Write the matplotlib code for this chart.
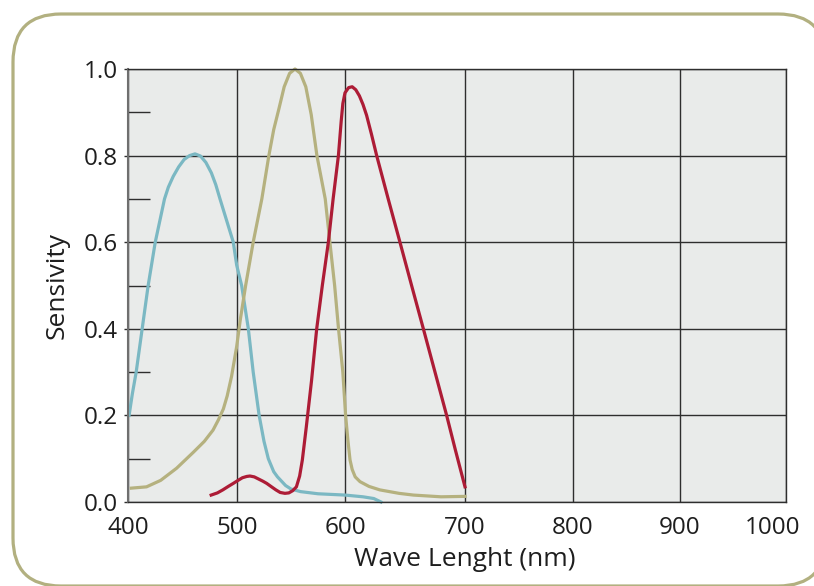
import numpy as np
import matplotlib.pyplot as plt
from matplotlib.patches import FancyBboxPatch
from matplotlib.transforms import ScaledTranslation

plt.rcParams['font.family'] = ['Open Sans', 'DejaVu Sans']

# cone sensitivity curves (wavelength nm, relative sensitivity)
blue_nm = [401, 404, 407.5, 413, 418.5, 425, 433.5, 437, 441.5, 446.5, 451.5, 456.5,
           461.5, 466.5, 471.5, 476.5, 480.5, 484.4, 490.5, 496.6, 499.7, 504.3, 510.5,
           515, 520.5, 525, 529, 534, 537.5, 540.5, 545, 550, 558.8, 575, 600, 615,
           624, 630]
blue_s = [0.2, 0.25, 0.3, 0.4, 0.5, 0.6, 0.7, 0.727, 0.752, 0.774, 0.791, 0.8,
          0.804, 0.799, 0.784, 0.76, 0.733, 0.7, 0.65, 0.6, 0.547, 0.5, 0.4,
          0.3, 0.2, 0.14, 0.1, 0.07, 0.058, 0.05, 0.038, 0.03, 0.024, 0.019, 0.016, 0.012,
          0.008, 0.0]

olive_nm = [403, 417, 430, 444.6, 460, 470, 478, 483, 487.5, 491, 495, 499.7, 503, 508,
            515, 523, 529.5, 534, 538.7, 543.7, 548.7, 553.7, 558.7, 563.7, 568.7,
            574, 581.7, 586, 590.4, 594, 598, 600.5, 602.5, 604.2, 606, 608.5, 612.5,
            620, 629, 645, 657, 680, 700]
olive_s = [0.032, 0.035, 0.05, 0.078, 0.115, 0.14, 0.166, 0.19, 0.215, 0.245, 0.29, 0.359,
           0.42, 0.5, 0.6, 0.7, 0.8, 0.86, 0.907, 0.959, 0.99, 1.0, 0.99, 0.959, 0.895,
           0.8, 0.7, 0.6, 0.5, 0.4, 0.3, 0.2, 0.14, 0.097, 0.075, 0.058, 0.047,
           0.036, 0.028, 0.02, 0.016, 0.012, 0.013]

red_nm = [476.3, 482, 487, 492, 496.6, 501, 505, 509, 512, 516, 520, 524, 527.5, 532,
          536, 540, 544.4, 548, 551.5, 555, 558, 560.5, 564.2, 569, 573.8, 579, 584.6,
          589, 593.9, 596.5, 598, 600, 603, 606, 609, 612, 615, 618, 622, 626.4, 636,
          645.8, 655.5, 665.3, 675, 684.7, 692, 700]
red_s = [0.016, 0.021, 0.028, 0.036, 0.043, 0.05, 0.056, 0.059, 0.06, 0.058, 0.053,
         0.048, 0.043, 0.035, 0.028, 0.022, 0.02, 0.021, 0.026, 0.035, 0.06, 0.097,
         0.174, 0.28, 0.4, 0.5, 0.6, 0.7, 0.8, 0.88, 0.92, 0.945, 0.957, 0.959, 0.952,
         0.938, 0.918, 0.893, 0.85, 0.8, 0.7, 0.6, 0.5, 0.4, 0.3, 0.2, 0.12, 0.035]

x_ticks = [400, 500, 600, 700, 800, 900, 1000]
y_ticks = [0.0, 0.2, 0.4, 0.6, 0.8, 1.0]

# the printed wavelength axis is not evenly spaced
knot_nm = [0, 400, 500, 600, 700, 800, 900, 1000, 2000]
knot_pos = [-436, 0, 109, 217, 337, 445, 552, 658, 1718]


def fwd(x):
    return np.interp(np.asarray(x, dtype=float), knot_nm, knot_pos)


def inv(p):
    return np.interp(np.asarray(p, dtype=float), knot_pos, knot_nm)


W, H = 814, 586
fig = plt.figure(figsize=(W / 100, H / 100), dpi=100)

# rounded frame around the whole panel, running off the right and bottom edges;
# a white face keeps Agg from clipping the outline to the canvas border
frame = FancyBboxPatch((13 / W, 0 / H), 813 / W, 572 / H,
                       boxstyle='round,pad=0,rounding_size=%f' % (48 / W),
                       mutation_aspect=W / H, transform=fig.transFigure,
                       facecolor='white', edgecolor='#b2b080', linewidth=2.3,
                       zorder=-5)
fig.add_artist(frame)

ax = fig.add_axes([128 / W, 84 / H, 658 / W, 433 / H])
ax.set_facecolor('#e9ebea')
ax.set_xscale('function', functions=(fwd, inv))

for nm, s, c in [(blue_nm, blue_s, '#7bb8c3'),
                 (olive_nm, olive_s, '#b5b17f'),
                 (red_nm, red_s, '#ad1c36')]:
    ax.plot(nm, s, color=c, lw=2.3, solid_joinstyle='round', clip_on=False)

ax.set_xlim(400, 1000)
ax.set_ylim(0, 1)
ax.set_xticks(x_ticks)
ax.set_xticklabels([str(v) for v in x_ticks])
ax.set_yticks(y_ticks)
ax.set_yticklabels(['%.1f' % v for v in y_ticks])
ax.set_yticks([0.1, 0.3, 0.5, 0.7, 0.9], minor=True)

ax.grid(True, which='major', color='#2e2e2e', lw=1.0)
ax.set_axisbelow(True)

ax.tick_params(axis='x', length=0, pad=10, labelsize=17.5, labelcolor='#1e1e1e')
ax.tick_params(axis='y', which='major', direction='out', length=3, width=1.0,
               color='#2e2e2e', pad=4, labelsize=17.5, labelcolor='#1e1e1e')
ax.tick_params(axis='y', which='minor', direction='in', length=16, width=1.0,
               color='#2e2e2e')

for side in ['top', 'right', 'bottom']:
    ax.spines[side].set_color('#2e2e2e')
    ax.spines[side].set_linewidth(1.0)
ax.spines['left'].set_color('#6f6f6f')
ax.spines['left'].set_linewidth(1.5)

last = ax.xaxis.get_major_ticks()[-1]
last.label1.set_transform(last.label1.get_transform()
                          + ScaledTranslation(-0.13, 0, fig.dpi_scale_trans))

ax.set_xlabel('Wave Lenght (nm)', fontsize=19, color='#1e1e1e')
ax.xaxis.set_label_coords((465 - 128) / 658, -0.104)
ax.set_ylabel('Sensivity', fontsize=19, color='#1e1e1e')
ax.yaxis.set_label_coords((70 - 128) / 658, 0.5)

fig.savefig('out.png', dpi=100)
